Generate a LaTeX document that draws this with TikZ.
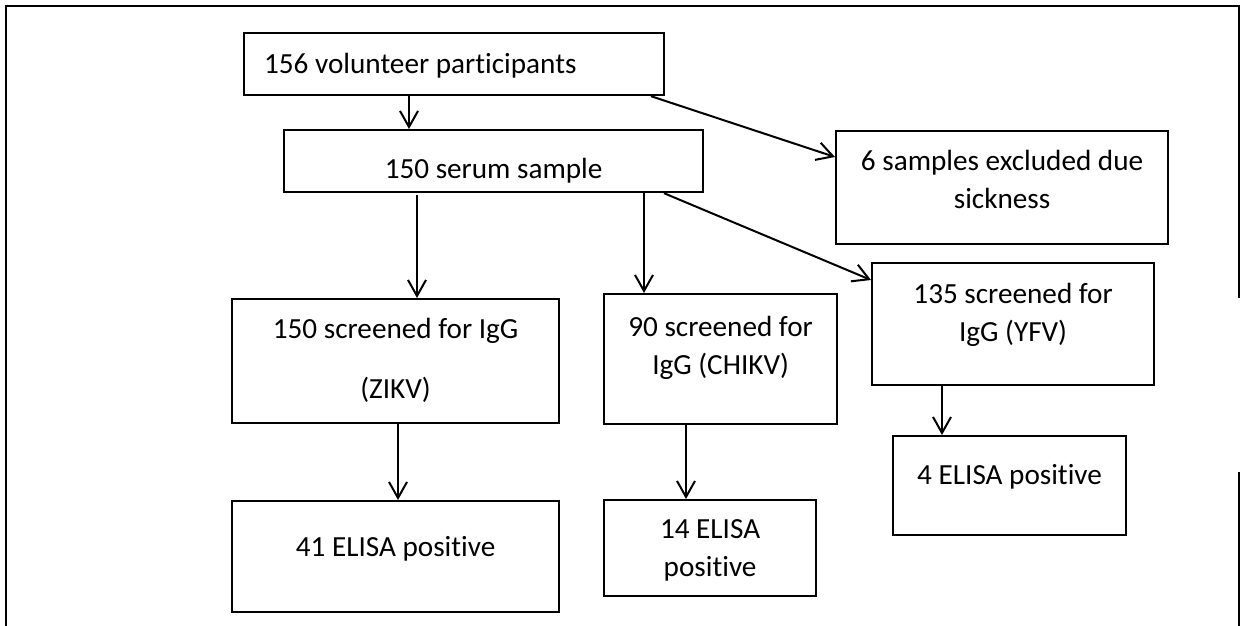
\documentclass[tikz,border=0pt]{standalone}
\usepackage{fontspec}
\setmainfont{Carlito}[Ligatures=NoCommon]
\usetikzlibrary{arrows.meta}

\tikzset{
  box/.style={draw, line width=1.1pt, inner sep=0pt, align=center, anchor=north west,
    font=\fontsize{14.6}{19}\selectfont},
  arr/.style={line width=1pt, -{Straight Barb[length=8pt,width=9pt]}},
  frame/.style={line width=1.2pt}
}

\begin{document}
\begin{tikzpicture}[x=0.5pt, y=-0.5pt]
          \useasboundingbox (0,0) rectangle (1243,626);
          \draw[frame] (6,626) -- (6,6) -- (1239,6) -- (1239,298);
          \draw[frame] (1239,472) -- (1239,626);

          \node[box, minimum width=210pt, text width=190pt, inner xsep=10pt, align=left,
            text height=20pt, text depth=11pt] (vol) at (243,32) {\spaceskip=0pt\xspaceskip=0pt 156 volunteer participants};
          \node[box, minimum width=209.5pt, text height=24pt, text depth=7pt] (serum) at (283,129) {150 serum sample};
          \node[box, minimum width=166pt, text height=38.5pt, text depth=18pt] (excl) at (835,130) {6 samples excluded due\\sickness};

          \node[box, minimum width=163.5pt, text height=49.5pt, text depth=12.5pt] (zikv) at (231,298) {150 screened for IgG\\[11pt](ZIKV)};
          \node[box, minimum width=116.5pt, text height=40pt, text depth=25pt] (chikv) at (603,293) {90 screened for\\IgG (CHIKV)};
          \node[box, minimum width=141pt, text height=39pt, text depth=22pt] (yfv) at (871,262) {135 screened for\\IgG (YFV)};

          \node[box, minimum width=163.5pt, text height=27.5pt, text depth=28pt] (zpos) at (231,500) {41 ELISA positive};
          \node[box, minimum width=106pt, text height=38pt, text depth=10pt] (cpos) at (603,499) {14 ELISA\\positive};
          \node[box, minimum width=116.5pt, text height=24pt, text depth=25.5pt] (ypos) at (892,435) {4 ELISA positive};

          \draw[arr] (vol.south -| 409,0) -- (serum.north -| 409,0);
          \draw[arr] (vol.south -| 651,0) -- (excl.west |- 0,157);
          \draw[arr] (serum.south -| 664,0) -- (yfv.west |- 892,280);
          \draw[arr] (417,195) -- (zikv.north -| 417,0);
          \draw[arr] (serum.south -| 644,0) -- (chikv.north -| 644,0);

          \draw[arr] (zikv.south -| 398,0) -- (zpos.north -| 398,0);
          \draw[arr] (chikv.south -| 686,0) -- (cpos.north -| 686,0);
          \draw[arr] (yfv.south -| 942,0) -- (ypos.north -| 942,0);
\end{tikzpicture}
\end{document}
